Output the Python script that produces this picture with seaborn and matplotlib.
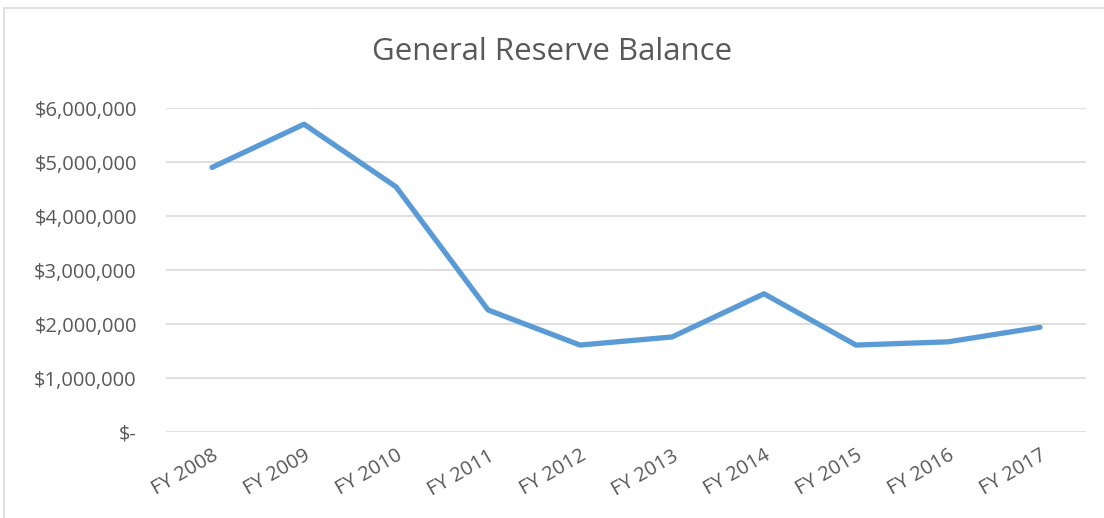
import matplotlib
matplotlib.use("Agg")
import matplotlib.pyplot as plt
import seaborn as sns
import pandas as pd
from matplotlib.ticker import FuncFormatter
from matplotlib.patches import Rectangle

# data
years = ["FY 2008", "FY 2009", "FY 2010", "FY 2011", "FY 2012",
         "FY 2013", "FY 2014", "FY 2015", "FY 2016", "FY 2017"]
balance = [4900000, 5700000, 4540000, 2260000, 1610000,
           1760000, 2560000, 1610000, 1670000, 1940000]

df = pd.DataFrame({"year": years, "balance": balance})
df["pos"] = range(len(df))

sns.set_theme(style="white")
plt.rcParams["font.family"] = ["Open Sans", "DejaVu Sans"]

text_col = "#595959"
grid_col = "#D9D9D9"

fig = plt.figure(figsize=(11.04, 5.18), dpi=100)
ax = fig.add_axes([0.1504, 0.166, 0.8333, 0.6255])

# chart area border
fig.patches.append(Rectangle((0.004, -0.01), 1.2, 0.995, transform=fig.transFigure,
                             fill=False, edgecolor=grid_col, linewidth=1.2))

sns.lineplot(data=df, x="pos", y="balance", ax=ax, color="#5B9BD5",
             linewidth=3.8, solid_capstyle="round", solid_joinstyle="round")

ax.set_xlim(-0.5, len(years) - 0.5)
ax.set_ylim(0, 6000000)
ax.set_yticks(range(0, 6000001, 1000000))
ax.yaxis.set_major_formatter(FuncFormatter(
    lambda v, p: "$-" if v == 0 else "${:,.0f}".format(v)))
ax.set_xticks(df["pos"])
ax.set_xticklabels(years, rotation=30, ha="right", rotation_mode="anchor")

ax.grid(axis="y", color=grid_col, linewidth=1.2)
ax.set_axisbelow(True)
for s in ax.spines.values():
    s.set_visible(False)
ax.tick_params(axis="both", length=0, labelsize=14.5, labelcolor=text_col)
ax.tick_params(axis="y", pad=21)
ax.tick_params(axis="x", pad=10)
ax.set_xlabel("")
ax.set_ylabel("")

fig.text(0.5, 0.9, "General Reserve Balance", ha="center", va="center",
         fontsize=22.5, color=text_col)

fig.savefig("out.png", dpi=100)
